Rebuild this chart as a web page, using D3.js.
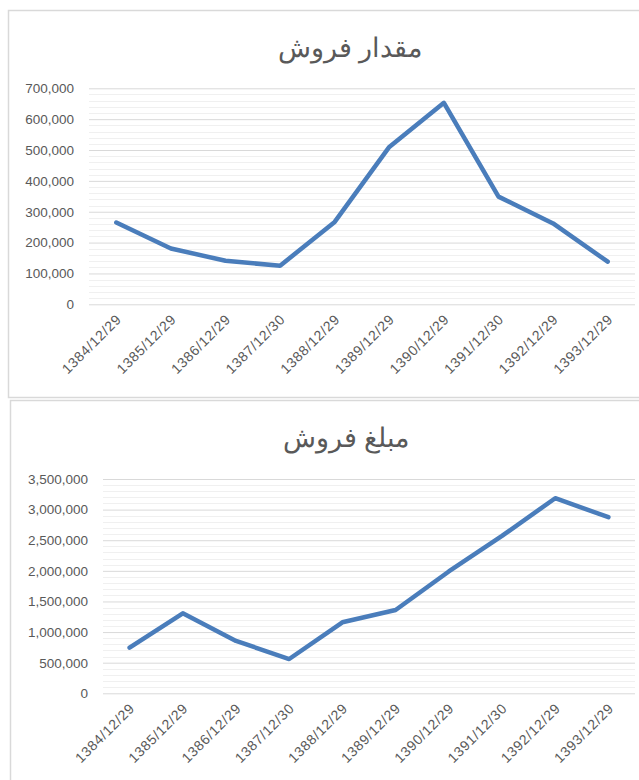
<!DOCTYPE html>
<html lang="fa">
<head>
<meta charset="utf-8">
<title>مقدار و مبلغ فروش</title>
<script src="https://cdn.jsdelivr.net/npm/d3@7"></script>
<style>
  body { margin: 0; background: #fff; }
  .tick text { font-family: "Liberation Sans", Arial, sans-serif; font-size: 13.5px; fill: #595959; }
  .xaxis .tick text { font-size: 14px; letter-spacing: 0.7px; }
  .title { font-family: "Liberation Sans", Arial, sans-serif; font-size: 27px; fill: #595959; }
</style>
</head>
<body>
<script>
// categories (shared by both charts)
var categories = ["1384/12/29", "1385/12/29", "1386/12/29", "1387/12/30", "1388/12/29",
                  "1389/12/29", "1390/12/29", "1391/12/30", "1392/12/29", "1393/12/29"];

// sales quantity
var quantity = [265000, 181000, 141000, 125000, 267000, 510000, 653000, 349000, 262000, 138000];
var quantityTicks = [0, 100000, 200000, 300000, 400000, 500000, 600000, 700000];

// sales amount
var amount = [745000, 1307000, 855000, 560000, 1160000, 1360000, 1990000, 2570000, 3186000, 2876000];
var amountTicks = [0, 500000, 1000000, 1500000, 2000000, 2500000, 3000000, 3500000];

var W = 639, H = 780;
var svg = d3.select("body").append("svg")
    .attr("width", W)
    .attr("height", H);

var fmt = d3.format(",");

function drawChart(opt) {
    var g = svg.append("g");

    // chart frame
    g.append("rect")
        .attr("x", opt.frame[0] + 0.5)
        .attr("y", opt.frame[1] + 0.5)
        .attr("width", opt.frame[2])
        .attr("height", opt.frame[3])
        .attr("fill", "#fff")
        .attr("stroke", "#d9d9d9")
        .attr("stroke-width", 1.5);

    g.append("text")
        .attr("class", "title")
        .attr("x", opt.titleX)
        .attr("y", opt.titleY)
        .attr("text-anchor", "middle")
        .text(opt.title);

    var x = d3.scaleBand()
        .domain(categories)
        .range([opt.left, opt.right]);

    var yMax = opt.ticks[opt.ticks.length - 1];
    var y = d3.scaleLinear()
        .domain([0, yMax])
        .range([opt.bottom, opt.top]);

    // minor gridlines (5 per major step)
    var step = opt.ticks[1] - opt.ticks[0];
    var minor = d3.range(0, yMax, step / 5).filter(function(v) { return v % step !== 0; });
    g.append("g")
        .selectAll("line")
        .data(minor)
        .enter()
        .append("line")
        .attr("x1", opt.left)
        .attr("x2", opt.right)
        .attr("y1", function(d) { return Math.round(y(d)) + 0.5; })
        .attr("y2", function(d) { return Math.round(y(d)) + 0.5; })
        .attr("stroke", "#f0f0f0");

    // y axis with major gridlines
    var yAxis = d3.axisLeft(y)
        .tickValues(opt.ticks)
        .tickFormat(fmt)
        .tickSize(-(opt.right - opt.left))
        .tickPadding(15);

    var ya = g.append("g")
        .attr("transform", "translate(" + opt.left + ",0)")
        .call(yAxis);
    ya.select(".domain").remove();
    ya.selectAll(".tick line").attr("stroke", "#d9d9d9");

    // x axis labels, rotated
    var xAxis = d3.axisBottom(x).tickSize(0).tickPadding(0);
    var xa = g.append("g")
        .attr("class", "xaxis")
        .attr("transform", "translate(0," + opt.bottom + ")")
        .call(xAxis);
    xa.select(".domain").remove();
    xa.selectAll(".tick text")
        .attr("text-anchor", "end")
        .attr("dy", 0)
        .attr("transform", "translate(6,16) rotate(-45)");

    // series line
    var line = d3.line()
        .x(function(d, i) { return x(categories[i]) + x.bandwidth() / 2; })
        .y(function(d) { return y(d); });

    g.append("path")
        .datum(opt.values)
        .attr("fill", "none")
        .attr("stroke", "#4a7dbb")
        .attr("stroke-width", 4.5)
        .attr("stroke-linejoin", "round")
        .attr("stroke-linecap", "round")
        .attr("d", line);
}

drawChart({
    title: "مقدار فروش",
    values: quantity,
    ticks: quantityTicks,
    frame: [8, 10, 640, 387],
    titleX: 350, titleY: 57,
    left: 89, right: 635, top: 88.3, bottom: 304.3
});

drawChart({
    title: "مبلغ فروش",
    values: amount,
    ticks: amountTicks,
    frame: [10, 400, 640, 400],
    titleX: 346, titleY: 447,
    left: 103, right: 635, top: 479, bottom: 693.3
});
</script>
</body>
</html>
